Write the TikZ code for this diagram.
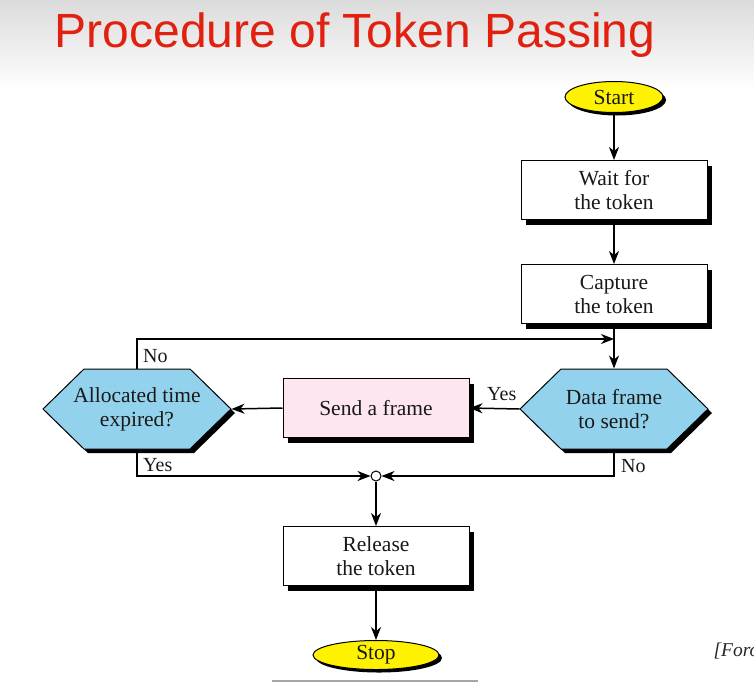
\documentclass[tikz,border=0pt]{standalone}
\usepackage{fontspec}
\setmainfont{Liberation Serif}
\newfontfamily\titlefont{Liberation Sans}
\usetikzlibrary{arrows.meta,shapes.geometric,shadows}

\definecolor{titlered}{HTML}{E2200F}
\definecolor{termyellow}{HTML}{FFF200}
\definecolor{decblue}{HTML}{93D2EC}
\definecolor{sendpink}{HTML}{FDE6F0}

\tikzset{
  hardshadow/.style={drop shadow={shadow xshift=#1, shadow yshift=-#1, opacity=1, fill=black}},
  base/.style={draw=black, line width=1pt, font=\fontsize{21.5}{24}\selectfont, align=center, text=black!90},
  terminal/.style={base, ellipse, fill=termyellow, inner sep=0pt, hardshadow=3pt},
  process/.style={base, rectangle, fill=white, minimum width=186pt, minimum height=59pt, hardshadow=5pt},
  decision/.style={base, draw=none, rectangle, minimum width=188pt, minimum height=80pt, inner sep=0pt},
  hexoutline/.style={draw=black, line width=1pt, fill=decblue, line join=miter},
  junction/.style={circle, draw=black, line width=1pt, fill=white, minimum size=10pt, inner sep=0pt},
  flow/.style={line width=1.5pt, -{Stealth[length=13pt,width=10pt,inset=4pt]}},
  branch/.style={font=\fontsize{20}{22}\selectfont, text=black!90, inner sep=0pt}
}

% hexagonal decision box: #1 name, #2 centre, #3 text
\newcommand\decisionnode[3]{%
  \fill[black] #2 ++(-90,4) -- ++(41,40) -- ++(106,0) -- ++(41,-40)
     -- ++(-41,-40) -- ++(-106,0) -- cycle;
  \path[hexoutline] #2 ++(-94,0) -- ++(41,40) -- ++(106,0) -- ++(41,-40)
     -- ++(-41,-40) -- ++(-106,0) -- cycle;
  \node[decision] (#1) at #2 {#3};%
}

\begin{document}
\begin{tikzpicture}[x=1pt, y=-1pt]
  \useasboundingbox (0,0) rectangle (754,683);

  % slide background with soft grey band at the top
  \fill[white] (0,0) rectangle (754,683);
  \shade[top color=black!14, bottom color=white] (0,0) rectangle (754,90);

  % title
  \node[font=\titlefont\fontsize{48}{52}\selectfont, text=titlered, anchor=base]
    (title) at (355,47) {Procedure of Token Passing};

  % flowchart nodes
  \node[terminal, minimum width=98pt, minimum height=31pt] (start) at (614,97) {Start};
  \node[process] (wait) at (614,190) {Wait for\\the token};
  \node[process] (capture) at (614,294) {Capture\\the token};
  \decisionnode{data}{(614,409)}{Data frame\\to send?}
  \node[process, fill=sendpink] (send) at (376,408) {Send a frame};
  \decisionnode{alloc}{(137,409)}{Allocated time\\expired?}
  \node[junction] (join) at (376,476) {};
  \node[process] (release) at (376,556) {Release\\the token};
  \node[terminal, minimum width=126pt, minimum height=29pt] (stop) at (376,655) {Stop};

  % point where the "No" loop rejoins the main line
  \coordinate (loopjoin) at (614,339);

  % connectors
  \draw[flow] (start) -- (wait);
  \draw[flow] (wait) -- (capture);
  \draw[flow] (capture) -- (data.north);
  \draw[flow] (data.west) -- (send.east);
  \draw[flow] (send.west) -- (alloc.east);
  \draw[flow] (alloc.north) |- (loopjoin);
  \draw[flow] (alloc.south) |- (join.west);
  \draw[flow] (data.south) |- (join.east);
  \draw[flow] (join) -- (release);
  \draw[flow] (release) -- (stop);

  % branch labels
  \node[branch, anchor=base west] (lnoa) at (143,362) {No};
  \node[branch, anchor=base west] (lyesa) at (143,471) {Yes};
  \node[branch, anchor=base west] (lyesd) at (487,400) {Yes};
  \node[branch, anchor=base west] (lnod) at (621,472) {No};

  % source note at the lower right edge
  \node[font=\itshape\fontsize{19.5}{22}\selectfont, text=black!85, anchor=base west]
    (source) at (710,656) {[Forouzan]};

  % rule under the slide content
  \draw[black!35, line width=2.5pt] (272,681) -- (478,681);
\end{tikzpicture}
\end{document}
